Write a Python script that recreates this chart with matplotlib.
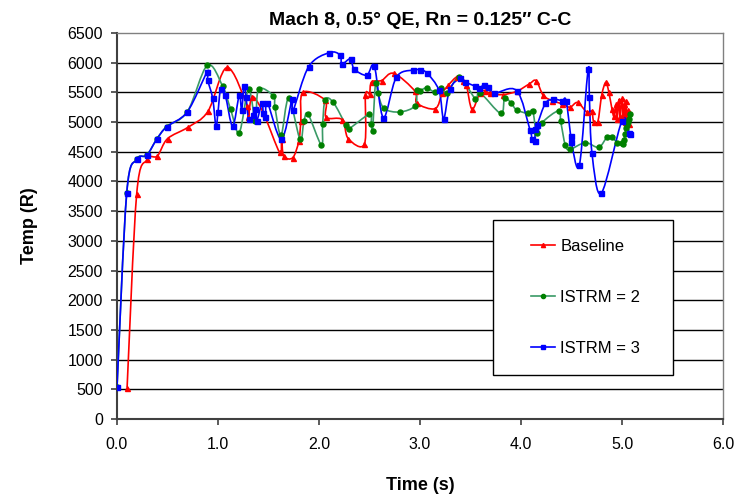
import matplotlib
matplotlib.use("Agg")
import matplotlib.pyplot as plt
import numpy as np
from matplotlib.path import Path
from matplotlib.patches import PathPatch, Rectangle
from matplotlib.lines import Line2D

plt.rcParams['font.family'] = ['Liberation Sans', 'DejaVu Sans']

# ---- data ----
base_t = [0.10, 0.195, 0.30, 0.40, 0.50, 0.70, 0.90, 1.09, 1.29, 1.30, 1.34, 1.45,
          1.61, 1.63, 1.65, 1.74, 1.80, 1.82, 1.84, 2.06, 2.07, 2.23, 2.29, 2.45,
          2.46, 2.50, 2.52, 2.62, 2.74, 2.95, 2.97, 3.15, 3.22, 3.28, 3.37, 3.43,
          3.46, 3.515, 3.59, 3.64, 3.69, 3.82, 3.96, 4.08, 4.15, 4.22, 4.31, 4.41,
          4.485, 4.56, 4.65, 4.70, 4.72, 4.76, 4.80, 4.84, 4.87, 4.90, 4.92, 4.94,
          4.95, 4.97, 4.98, 5.00, 5.01, 5.02, 5.03, 5.04, 5.05, 5.06, 5.07]
base_T = [530, 3790, 4370, 4430, 4720, 4910, 5180, 5920, 5270, 5080, 5430, 5150,
          4490, 4720, 4430, 4400, 4680, 5010, 5500, 5370, 5080, 5040, 4720, 4630,
          5450, 5480, 5675, 5700, 5820, 5520, 5316, 5226, 5484, 5620, 5765, 5690,
          5620, 5215, 5484, 5530, 5484, 5462, 5520, 5640, 5697, 5450, 5360, 5305,
          5250, 5330, 5170, 5180, 5000, 5000, 5460, 5670, 5500, 5226, 5100, 5300,
          5050, 5380, 5100, 5400, 5050, 5300, 5000, 5350, 4980, 5200, 4960]

i2_t = [0.0, 0.096, 0.195, 0.294, 0.393, 0.492, 0.697, 0.894, 1.045, 1.125, 1.21,
        1.303, 1.37, 1.402, 1.548, 1.564, 1.624, 1.70, 1.812, 1.851, 1.891, 2.023,
        2.036, 2.062, 2.142, 2.267, 2.294, 2.498, 2.518, 2.53, 2.56, 2.584, 2.644,
        2.80, 2.954, 2.967, 3.0, 3.066, 3.152, 3.211, 3.27, 3.389, 3.548, 3.594,
        3.799, 3.838, 3.904, 3.957, 4.069, 4.116, 4.155, 4.208, 4.373, 4.393,
        4.439, 4.485, 4.637, 4.769, 4.855, 4.901, 4.954, 5.0, 5.013, 5.02, 5.03,
        5.04, 5.05, 5.06, 5.07, 5.08]
i2_T = [540, 3800, 4373, 4441, 4710, 4922, 5175, 5955, 5608, 5215, 4822,
        5552, 5024, 5552, 5440, 5249, 4778, 5400, 4710, 5013, 5136, 4615,
        4968, 5378, 5330, 4946, 4885, 5130, 4968, 4856, 5663, 5484, 5230,
        5170, 5277, 5541, 5530, 5575, 5500, 5570, 5484, 5753, 5394, 5496,
        5147, 5406, 5316, 5204, 5147, 5192, 4811, 4991, 5192, 5013,
        4609, 4541, 4654, 4575, 4755, 4744, 4654, 4640, 4631, 4700, 4800,
        4900, 4950, 5000, 5050, 5136]

i3_t = [0.0, 0.096, 0.195, 0.294, 0.393, 0.492, 0.697, 0.894, 0.898, 0.947, 0.98,
        1.0, 1.026, 1.072, 1.145, 1.21, 1.234, 1.257, 1.277, 1.303, 1.343, 1.363,
        1.382, 1.435, 1.449, 1.469, 1.489, 1.627, 1.733, 1.745, 1.898, 2.102,
        2.208, 2.228, 2.314, 2.347, 2.472, 2.548, 2.637, 2.765, 2.927, 2.997,
        3.069, 3.188, 3.234, 3.294, 3.40, 3.449, 3.54, 3.58, 3.634, 3.673, 3.733,
        3.957, 4.089, 4.109, 4.135, 4.142, 4.161, 4.241, 4.32, 4.406, 4.446,
        4.492, 4.498, 4.578, 4.664, 4.677, 4.703, 4.795, 5.0, 5.072, 5.08]
i3_T = [540, 3800, 4373, 4441, 4710, 4922, 5175, 5850, 5709, 5400, 4934,
        5170, 5552, 5450, 4934, 5450, 5204, 5608, 5428, 5058, 5113, 5215,
        5013, 5316, 5147, 5080, 5327, 4710, 5383, 5204, 5934, 6170,
        6130, 5980, 6068, 5895, 5787, 5940, 5077, 5753, 5877, 5877,
        5826, 5535, 5058, 5555, 5738, 5675, 5608, 5574, 5619, 5585, 5484,
        5530, 4867, 4721, 4677, 4879, 4957, 5316, 5383, 5361, 5361,
        4766, 4665, 4272, 5889, 5417, 4474, 3800, 5024, 4822, 4800]

labels = ['Baseline', 'ISTRM = 2', 'ISTRM = 3']
x_ticks = [0, 1, 2, 3, 4, 5, 6]
y_ticks = list(range(0, 7000, 500))


def smooth_path(x, y):
    """Excel-like smoothed line: Catmull-Rom as cubic Bezier segments."""
    p = np.column_stack([x, y]).astype(float)
    n = len(p)
    verts = [p[0]]
    codes = [Path.MOVETO]
    for i in range(n - 1):
        p0 = p[i - 1] if i > 0 else p[i]
        p1 = p[i]
        p2 = p[i + 1]
        p3 = p[i + 2] if i + 2 < n else p[i + 1]
        c1 = p1 + (p2 - p0) / 6.0
        c2 = p2 - (p3 - p1) / 6.0
        verts += [c1, c2, p2]
        codes += [Path.CURVE4] * 3
    return Path(verts, codes)


fig = plt.figure(figsize=(7.45, 4.95), dpi=100)
ax = fig.add_axes([117 / 745, 1 - 419 / 495, 606 / 745, 386 / 495])

series = [
    (base_t, base_T, '#FF0000', '#FF0000', '^', 3.6),
    (i2_t, i2_T, '#3A9A66', '#008000', 'o', 3.6),
    (i3_t, i3_T, '#0000FF', '#0000FF', 's', 3.6),
]
handles = []
for (x, y, lc, mc, mk, ms), lab in zip(series, labels):
    patch = PathPatch(smooth_path(x, y), facecolor='none', edgecolor=lc,
                      lw=1.2, transform=ax.transData, zorder=3)
    ax.add_patch(patch)
    ax.plot(x, y, ls='none', marker=mk, ms=ms, color=mc, mec=mc, zorder=4)
    handles.append(Line2D([], [], color=lc, lw=1.2, marker=mk, ms=3, mfc=mc, mec=mc))

ax.set_xlim(0, 6)
ax.set_ylim(0, 6500)
ax.set_xticks(x_ticks)
ax.set_xticklabels([f'{v:.1f}' for v in x_ticks], fontsize=11.5)
ax.set_yticks(y_ticks)
ax.set_yticklabels([str(v) for v in y_ticks], fontsize=11.5)
ax.tick_params(direction='out', length=4, width=1.2, colors='#404040', labelcolor='black')
ax.tick_params(axis='y', pad=6)
ax.tick_params(axis='x', pad=9)

for v in y_ticks[1:-1]:
    ax.axhline(v, color='black', lw=1.0, zorder=1)

for s in ['left', 'bottom']:
    ax.spines[s].set_color('#404040')
    ax.spines[s].set_linewidth(1.5)
for s in ['top', 'right']:
    ax.spines[s].set_color('#808080')
    ax.spines[s].set_linewidth(1.0)

ax.set_title('Mach 8, 0.5° QE, Rn = 0.125″ C-C', fontsize=14,
             fontweight='bold', pad=6)
ax.set_xlabel('Time (s)', fontsize=13, fontweight='bold', labelpad=18)
ax.set_ylabel('Temp (R)', fontsize=13, fontweight='bold', labelpad=21)

# legend box
box = Rectangle((0.620, 0.114), 0.297, 0.401, transform=ax.transAxes,
                facecolor='white', edgecolor='black', lw=1.0, zorder=5)
ax.add_patch(box)
leg = ax.legend(handles, labels, loc='upper left',
                bbox_to_anchor=((531 - 117) / 606, (419 - 239) / 386),
                frameon=False, fontsize=12, handlelength=1.45, handletextpad=0.3,
                labelspacing=2.15, borderpad=0, borderaxespad=0)
leg.set_zorder(6)

fig.savefig('out.png', dpi=100)
